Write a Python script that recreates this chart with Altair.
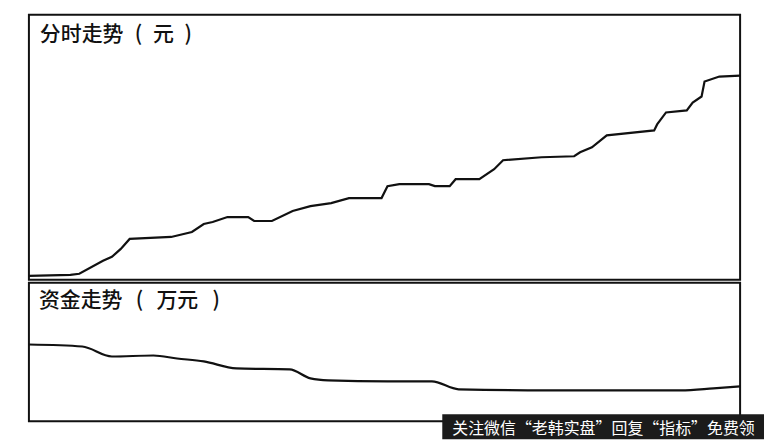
import altair as alt
import pandas as pd

# ---- data (minutes since open) ----
price_minutes = [0, 14, 17, 25, 28, 31, 34, 48, 55, 59, 62, 67, 74, 76, 82, 89, 95, 102, 108,
                 119, 121, 125, 135, 137, 142, 144, 152, 157, 160, 173, 184, 186, 190, 195,
                 211, 212, 215, 222, 224, 227, 228, 233, 240]
price_values = [10.00, 10.01, 10.02, 10.15, 10.19, 10.27, 10.37, 10.39, 10.44, 10.52, 10.54,
                10.59, 10.59, 10.55, 10.55, 10.65, 10.70, 10.73, 10.78, 10.78, 10.90, 10.92,
                10.92, 10.90, 10.90, 10.97, 10.97, 11.07, 11.16, 11.19, 11.20, 11.24, 11.29,
                11.41, 11.46, 11.52, 11.64, 11.66, 11.74, 11.80, 11.95, 12.00, 12.01]

fund_minutes = [0, 18, 28, 42, 50, 59, 70, 88, 95, 101, 121, 136, 145, 175, 220, 231, 240]
fund_values = [770, 750, 650, 660, 630, 600, 530, 520, 430, 410, 400, 400, 320, 310, 310, 330, 350]

top_title = ["分时走势", "(", "元", ")"]
bottom_title = ["资金走势", "(", "万元", ")"]
watermark = "关注微信“老韩实盘”回复“指标”免费领"

FONT = "Noto Sans CJK SC"
W = 714
H_TOP = 266
H_BOT = 139

price_df = pd.DataFrame({"minute": price_minutes, "price": price_values})
fund_df = pd.DataFrame({"minute": fund_minutes, "fund": fund_values})

x_scale = alt.Scale(domain=[0, 240], nice=False, zero=False, padding=0)

top_line = alt.Chart(price_df).mark_line(color="#111111", strokeWidth=2.2).encode(
    x=alt.X("minute:Q", scale=x_scale, axis=None),
    y=alt.Y("price:Q", scale=alt.Scale(domain=[9.96, 12.62], nice=False, zero=False), axis=None),
)

def title_piece(txt, x, y, size, align):
    return alt.Chart(pd.DataFrame({"t": [txt]})).mark_text(
        font=FONT, fontSize=size, fontWeight=500, color="#111111", align=align, baseline="middle"
    ).encode(text="t:N", x=alt.value(x), y=alt.value(y))

top = alt.layer(
    top_line,
    title_piece(top_title[0], 11, 20, 21, "left"),
    title_piece(top_title[1], 110, 20, 21, "center"),
    title_piece(top_title[2], 135, 20, 21, "center"),
    title_piece(top_title[3], 160, 20, 21, "center"),
).properties(width=W, height=H_TOP)

bot_line = alt.Chart(fund_df).mark_line(color="#111111", strokeWidth=2.2, interpolate="monotone").encode(
    x=alt.X("minute:Q", scale=x_scale, axis=None),
    y=alt.Y("fund:Q", scale=alt.Scale(domain=[0, 1390], nice=False, zero=False), axis=None),
)

wm_rect = alt.Chart(pd.DataFrame({"t": [watermark]})).mark_rect(color="#1b1b1b").encode(
    x=alt.value(415), x2=alt.value(738), y=alt.value(132), y2=alt.value(157)
)
wm_text = alt.Chart(pd.DataFrame({"t": [watermark]})).mark_text(
    font=FONT, fontSize=16, color="#ffffff", align="left", baseline="middle"
).encode(text="t:N", x=alt.value(425), y=alt.value(147))

bottom = alt.layer(
    bot_line,
    title_piece(bottom_title[0], 10, 18, 21, "left"),
    title_piece(bottom_title[1], 111, 18, 21, "center"),
    title_piece(bottom_title[2], 149, 18, 21, "center"),
    title_piece(bottom_title[3], 188, 18, 21, "center"),
    wm_rect,
    wm_text,
).properties(width=W, height=H_BOT)

chart = alt.vconcat(top, bottom, spacing=0).properties(
    padding={"left": 15, "top": 5, "right": 0, "bottom": 0},
    background="white",
).configure_view(stroke="#111111", strokeWidth=2)

chart.save("out.html", embed_options={"renderer": "svg", "actions": False})
